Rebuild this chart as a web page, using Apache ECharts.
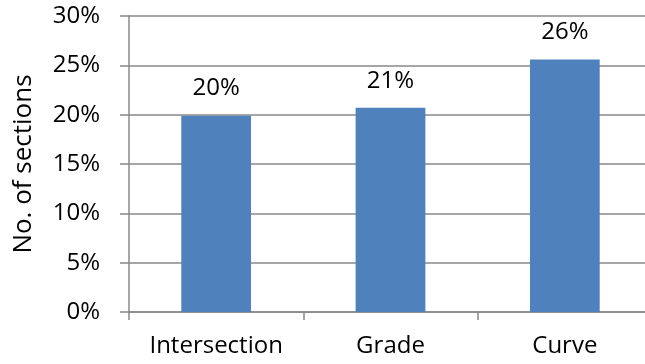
<!DOCTYPE html>
<html>
<head>
<meta charset="utf-8">
<script src="https://cdn.jsdelivr.net/npm/echarts@6/dist/echarts.min.js"></script>
<style>
  html, body { margin: 0; padding: 0; background: #fff; }
  #chart { width: 645px; height: 364px; }
</style>
</head>
<body>
<div id="chart"></div>
<script>
const categories = ['Intersection', 'Grade', 'Curve']
const shares = [0.199, 0.207, 0.256]
const yTicks = [0, 0.05, 0.1, 0.15, 0.2, 0.25, 0.3]

const font = 'Open Sans'
const gray = '#888888'
const chart = echarts.init(document.getElementById('chart'))
chart.setOption({
  animation: false,
  grid: {
    left: 129,
    top: 16,
    width: 523,
    height: 296,
    outerBoundsMode: 'none'
  },
  xAxis: {
    type: 'category',
    data: categories,
    axisLine: { lineStyle: { color: gray, width: 1.5 } },
    axisTick: { show: true, length: 8, lineStyle: { color: gray, width: 1.5 } },
    axisLabel: {
      interval: 0,
      color: '#000',
      fontFamily: font,
      fontSize: 24,
      margin: 22
    }
  },
  yAxis: {
    type: 'value',
    min: yTicks[0],
    max: yTicks[yTicks.length - 1],
    interval: 0.05,
    name: 'No. of sections',
    nameLocation: 'middle',
    nameGap: 92,
    nameTextStyle: { color: '#000', fontFamily: font, fontSize: 26 },
    axisLine: { show: true, lineStyle: { color: gray, width: 1.5 } },
    axisTick: { show: true, length: 9, lineStyle: { color: gray, width: 1.5 } },
    splitLine: { lineStyle: { color: gray, width: 1.5 } },
    axisLabel: {
      color: '#000',
      fontFamily: font,
      fontSize: 24,
      margin: 29,
      formatter: (v) => Math.round(v * 100) + '%'
    }
  },
  series: [{
    type: 'bar',
    data: shares,
    barWidth: '40%',
    itemStyle: { color: '#4F81BD' },
    label: {
      show: true,
      position: 'top',
      distance: 15,
      color: '#000',
      fontFamily: font,
      fontSize: 24,
      formatter: (p) => Math.round(p.value * 100) + '%'
    }
  }]
})
</script>
</body>
</html>
